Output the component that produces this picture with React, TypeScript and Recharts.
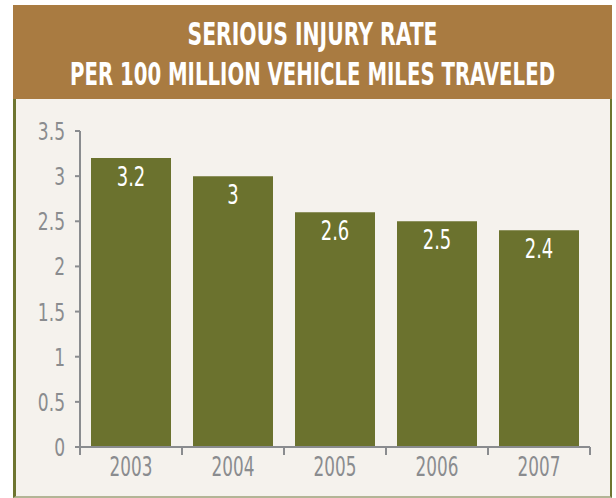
import React from "react";
import { BarChart, Bar, XAxis, YAxis, LabelList } from "recharts";

const years = ["2003", "2004", "2005", "2006", "2007"];
const rates = [3.2, 3.0, 2.6, 2.5, 2.4];
const rateLabels = ["3.2", "3", "2.6", "2.5", "2.4"];
const yTicks = [0, 0.5, 1, 1.5, 2, 2.5, 3, 3.5];
const titleLines = ["SERIOUS INJURY RATE", "PER 100 MILLION VEHICLE MILES TRAVELED"];

const data = years.map((y, i) => ({ year: y, value: rates[i], label: rateLabels[i] }));

const FONT = "'DejaVu Sans Condensed', 'Liberation Sans Narrow', sans-serif";
const GRAY = "#8A8C8F";
const BAR = "#6B722E";
const HEADER = "#A97B41";
const PANEL = "#F5F2ED";

const W = 616;
const H = 498;
const PLOT_LEFT = 80;
const PLOT_RIGHT = 590;
const BAND = (PLOT_RIGHT - PLOT_LEFT) / years.length;

const Narrow = ({ x, y, anchor, size, fill, sx, children }: any) => (
  <text
    transform={`translate(${x},${y}) scale(${sx},1)`}
    x={0}
    y={0}
    textAnchor={anchor}
    fill={fill}
    fontFamily={FONT}
    fontSize={size}
  >
    {children}
  </text>
);

const XTick = (props: any) => {
  const { x, y, payload, index } = props;
  const half = payload && payload.offset ? payload.offset : BAND / 2;
  const axisY = y - 8;
  return (
    <g>
      <line x1={x - half} x2={x - half} y1={axisY} y2={y} stroke={GRAY} strokeWidth={2} />
      {index === years.length - 1 && (
        <line x1={x + half} x2={x + half} y1={axisY} y2={y} stroke={GRAY} strokeWidth={2} />
      )}
      <Narrow x={x} y={y + 21} anchor="middle" size={26} fill={GRAY} sx={0.72}>
        {payload.value}
      </Narrow>
    </g>
  );
};

const YTick = (props: any) => {
  const { x, y, payload } = props;
  return (
    <Narrow x={x} y={y + 9} anchor="end" size={25} fill={GRAY} sx={0.76}>
      {String(payload.value)}
    </Narrow>
  );
};

const BarLabel = (props: any) => {
  const { x, y, width, value } = props;
  return (
    <Narrow x={x + width / 2} y={y + 28} anchor="middle" size={27} fill="#ffffff" sx={0.74}>
      {value}
    </Narrow>
  );
};

const TitleLine = ({ cx, baseline, length, children }: any) => (
  <text
    transform={`translate(${cx},${baseline}) scale(1,1.3)`}
    x={0}
    y={0}
    textAnchor="middle"
    fill="#ffffff"
    fontFamily={FONT}
    fontWeight="bold"
    fontSize={24}
    textLength={length}
    lengthAdjust="spacingAndGlyphs"
  >
    {children}
  </text>
);

export default function App() {
  return (
    <div style={{ position: "absolute", left: 0, top: 0, width: W, height: H, background: "#ffffff" }}>
      <div
        style={{
          position: "absolute",
          left: 13,
          top: 5,
          width: 599,
          height: 94,
          background: HEADER,
        }}
      >
        <svg width={599} height={94}>
          <TitleLine cx={299.5} baseline={40} length={250}>
            {titleLines[0]}
          </TitleLine>
          <TitleLine cx={299.5} baseline={80} length={485}>
            {titleLines[1]}
          </TitleLine>
        </svg>
      </div>
      <div
        style={{
          position: "absolute",
          left: 13,
          top: 99,
          width: 599,
          height: 399,
          boxSizing: "border-box",
          background: PANEL,
          borderLeft: "3px solid #6E7530",
          borderRight: "2px solid #6E7530",
          borderBottom: "2px solid #B3B596",
        }}
      />
      <div style={{ position: "absolute", left: 0, top: 0 }}>
        <BarChart
          width={W}
          height={H}
          data={data}
          margin={{ top: 131, right: W - PLOT_RIGHT, bottom: 21, left: 0 }}
          barCategoryGap={11}
        >
          <XAxis
            dataKey="year"
            height={30}
            tickLine={false}
            tickSize={8}
            tickMargin={0}
            axisLine={{ stroke: GRAY, strokeWidth: 2 }}
            tick={<XTick />}
            interval={0}
          />
          <YAxis
            width={PLOT_LEFT}
            domain={[0, 3.5]}
            ticks={yTicks}
            tickSize={5}
            tickMargin={10}
            axisLine={{ stroke: GRAY, strokeWidth: 2 }}
            tickLine={{ stroke: GRAY, strokeWidth: 2 }}
            tick={<YTick />}
          />
          <Bar dataKey="value" fill={BAR} isAnimationActive={false}>
            <LabelList dataKey="label" content={<BarLabel />} />
          </Bar>
        </BarChart>
      </div>
    </div>
  );
}
